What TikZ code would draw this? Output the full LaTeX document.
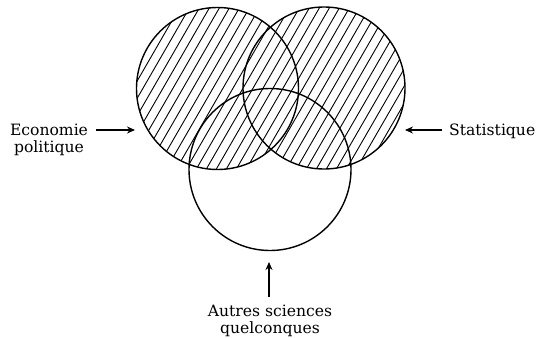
\documentclass[tikz,border=0pt]{standalone}
\usepackage{fontspec}
\setmainfont{DejaVu Serif}
\usetikzlibrary{arrows.meta}
\begin{document}
\begin{tikzpicture}[x=1pt,y=-1pt,
  set/.style={circle,draw,line width=1.4pt,minimum size=162pt,inner sep=0pt},
  lab/.style={font=\fontsize{15.6}{17}\selectfont,align=center,inner sep=0pt},
  arr/.style={line width=1.3pt,-{Stealth[length=8pt,width=7pt]}},
  hatch/.style={line width=0.9pt}]
\useasboundingbox (0,0) rectangle (537,337);
% hatching of the two upper sets
\begin{scope}
  \clip (217.5,88.5) circle[radius=81pt] (324,88) circle[radius=81pt];
  \foreach \i in {0,...,42}
    \draw[hatch] ({20+\i*10},180) -- ++(110,-190.5);
\end{scope}
% sets
\node[set] (L) at (217.5,88.5) {};
\node[set] (R) at (324,88) {};
\node[set] (B) at (270,169.5) {};
% labels
\node[lab,anchor=north] (econ) at (49,124) {Economie\\politique};
\node[lab,anchor=base west] (stat) at (449,135) {Statistique};
\node[lab,anchor=north] (autres) at (270,305) {Autres sciences\\quelconques};
% arrow targets
\coordinate (eL) at (135,130);
\coordinate (sR) at (405,130);
\coordinate (bT) at (269,262);
\draw[arr,shorten <=8pt] (econ.east |- eL) -- (eL);
\draw[arr,shorten <=7pt] (stat.west |- sR) -- (sR);
\draw[arr,shorten <=8pt] (autres.north -| bT) -- (bT);
\end{tikzpicture}
\end{document}
